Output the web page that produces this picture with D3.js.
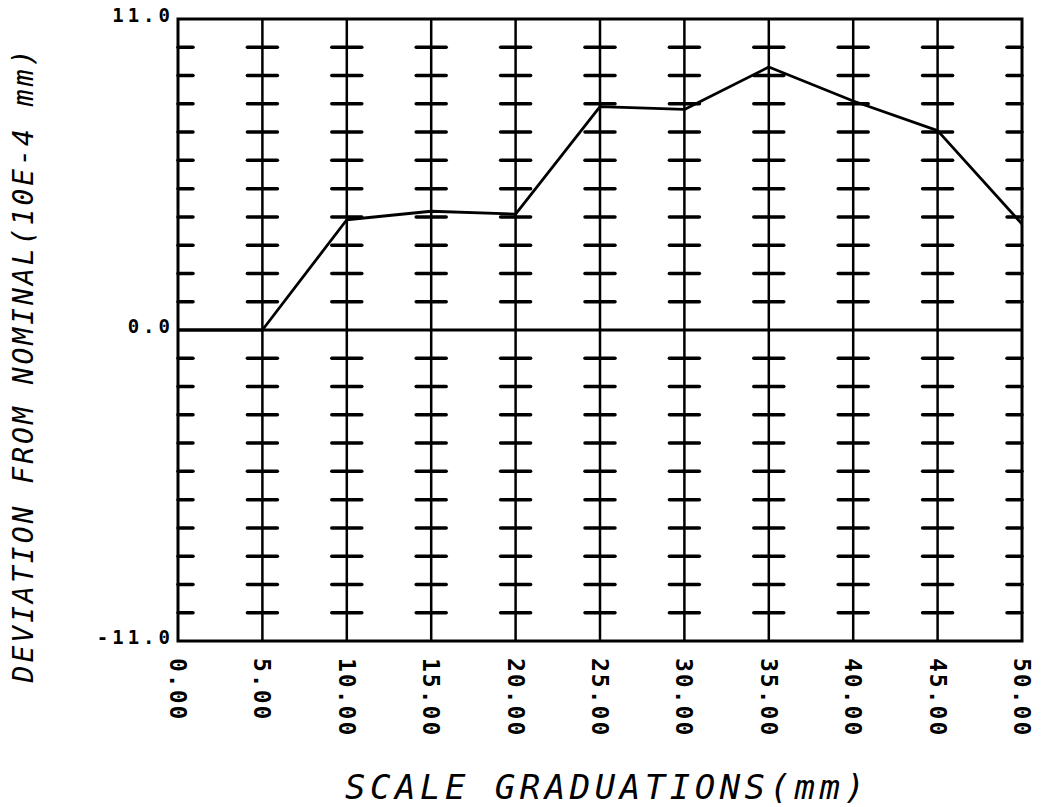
<!DOCTYPE html>
<html>
<head>
<meta charset="utf-8">
<script src="https://cdn.jsdelivr.net/npm/d3@7"></script>
<style>
  body { margin: 0; background: #fff; }
  svg { display: block; }
</style>
</head>
<body>
<div id="chart"></div>
<script>
// graduations (mm) and deviation from nominal (1e-4 mm)
var graduations = [0, 5, 10, 15, 20, 25, 30, 35, 40, 45, 50];
var deviation = [0.0, 0.0, 3.9, 4.2, 4.1, 7.9, 7.8, 9.3, 8.1, 7.05, 3.75];
var xTickLabels = ["0.00", "5.00", "10.00", "15.00", "20.00", "25.00", "30.00", "35.00", "40.00", "45.00", "50.00"];
var yTickValues = [11, 0, -11];
var yTickLabels = ["11.0", "0.0", "-11.0"];
var crossValues = d3.range(-10, 11); // cross marks every 1.0

var width = 1045, height = 807;
var padding = { top: 19, left: 178, right: 23, bottom: 166 };

var svg = d3.select("#chart")
    .append("svg")
    .attr("width", width)
    .attr("height", height);

const xScale = d3.scaleLinear()
    .domain([0, 50])
    .range([padding.left, width - padding.right]);

const yScale = d3.scaleLinear()
    .domain([-11, 11])
    .range([height - padding.bottom, padding.top]);

var mono = "'DejaVu Sans Mono', 'Liberation Mono', monospace";

// vertical grid lines at each graduation
svg.append("g")
    .selectAll("line")
    .data(graduations.slice(1, -1))
    .enter().append("line")
    .attr("x1", d => xScale(d))
    .attr("x2", d => xScale(d))
    .attr("y1", yScale(11))
    .attr("y2", yScale(-11))
    .attr("stroke", "#000")
    .attr("stroke-width", 2.5);

// cross marks on every grid line
var tickHalf = 15;
graduations.forEach(function (g) {
    var x = xScale(g);
    var x1 = g == 0 ? x : x - tickHalf;
    var x2 = g == 50 ? x : x + tickHalf;
    svg.append("g")
        .selectAll("line")
        .data(crossValues.filter(v => v != 0))
        .enter().append("line")
        .attr("x1", x1)
        .attr("x2", x2)
        .attr("y1", d => yScale(d))
        .attr("y2", d => yScale(d))
        .attr("stroke", "#000")
        .attr("stroke-width", 3.5)
        .attr("stroke-linecap", "round");
});

// zero line
svg.append("line")
    .attr("x1", xScale(0))
    .attr("x2", xScale(50))
    .attr("y1", yScale(0))
    .attr("y2", yScale(0))
    .attr("stroke", "#000")
    .attr("stroke-width", 3);

// frame
svg.append("rect")
    .attr("x", xScale(0))
    .attr("y", yScale(11))
    .attr("width", xScale(50) - xScale(0))
    .attr("height", yScale(-11) - yScale(11))
    .attr("fill", "none")
    .attr("stroke", "#000")
    .attr("stroke-width", 3);

// data line
const pathLine = d3.line()
    .x((d, i) => xScale(graduations[i]))
    .y(d => yScale(d));

svg.append("path")
    .attr("d", pathLine(deviation))
    .attr("fill", "none")
    .attr("stroke", "#000")
    .attr("stroke-width", 2.8)
    .attr("stroke-linejoin", "round");

// y tick labels
svg.append("g")
    .selectAll("text")
    .data(yTickValues)
    .enter().append("text")
    .attr("x", padding.left - 4)
    .attr("y", d => yScale(d) + 3)
    .attr("text-anchor", "end")
    .style("font-family", mono)
    .style("font-weight", "bold")
    .style("font-size", "19px")
    .style("letter-spacing", "4px")
    .text((d, i) => yTickLabels[i]);

// x tick labels, rotated
svg.append("g")
    .selectAll("text")
    .data(graduations)
    .enter().append("text")
    .attr("transform", d => `translate(${xScale(d) - 8},${height - padding.bottom + 17}) rotate(90)`)
    .attr("text-anchor", "start")
    .style("font-family", mono)
    .style("font-weight", "bold")
    .style("font-size", "23px")
    .style("letter-spacing", "2px")
    .text((d, i) => xTickLabels[i]);

// axis titles
svg.append("text")
    .attr("x", 605)
    .attr("y", 799)
    .attr("text-anchor", "middle")
    .attr("textLength", 520)
    .attr("lengthAdjust", "spacing")
    .style("font-family", mono)
    .style("font-style", "italic")
    .style("font-size", "34px")
    .text("SCALE GRADUATIONS(mm)");

svg.append("text")
    .attr("transform", "translate(33,366) rotate(-90)")
    .attr("text-anchor", "middle")
    .attr("textLength", 633)
    .attr("lengthAdjust", "spacing")
    .style("font-family", mono)
    .style("font-style", "italic")
    .style("font-size", "28px")
    .text("DEVIATION FROM NOMINAL(10E-4 mm)");
</script>
</body>
</html>
